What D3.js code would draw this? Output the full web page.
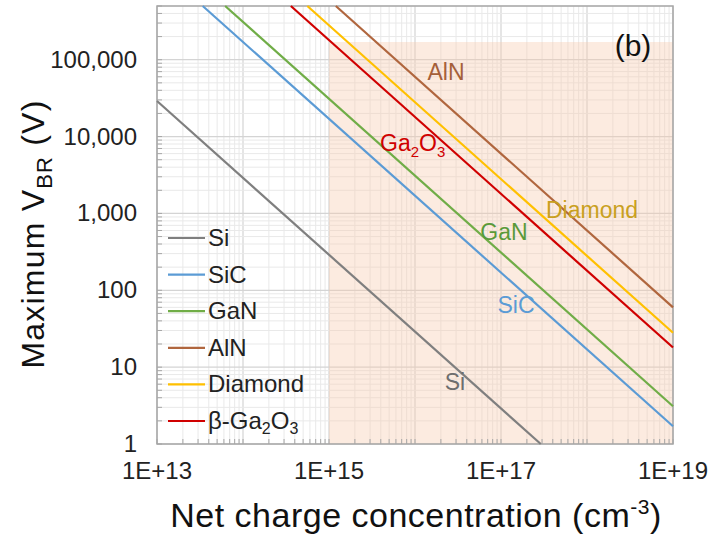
<!DOCTYPE html>
<html>
<head>
<meta charset="utf-8">
<script src="https://cdn.jsdelivr.net/npm/d3@7"></script>
<style>
body{margin:0;background:#fff;}
text{font-family:"Liberation Sans", Arial, sans-serif;}
</style>
</head>
<body>
<svg id="graph" width="712" height="535"></svg>
<script>
// materials, in legend order
const materials = ["Si", "SiC", "GaN", "AlN", "Diamond", "β-Ga2O3"];
// endpoints of each line: [N start, N end], [V start, V end]
const siN = [1e13, 2.9e17];      const siV = [2.9e4, 1];
const sicN = [3.4e13, 1e19];     const sicV = [5e5, 1.7];
const ganN = [6.2e13, 1e19];     const ganV = [5e5, 3.1];
const alnN = [1.2e15, 1e19];     const alnV = [5e5, 60];
const diamondN = [5.6e14, 1e19]; const diamondV = [5e5, 28];
const ga2o3N = [3.6e14, 1e19];   const ga2o3V = [5e5, 18];

const xTicks = [1e13, 1e15, 1e17, 1e19];
const yTicks = [1, 10, 100, 1000, 10000, 100000];
const shadeN = [1e15, 1e19];
const shadeV = [1, 1.7e5];

const colors = ["#7f7f7f", "#5b9bd5", "#70ad47", "#b0663e", "#ffc000", "#d00000"];
const labelColors = ["#6e6e6e", "#5b9bd5", "#5a9a3a", "#a5603a", "#c9a020", "#d00000"];

const margin = {top: 6, bottom: 91, left: 157, right: 39};
var graph = d3.select("#graph");
var width = 712, height = 535;

var x = d3.scaleLog()
	.domain([1e13, 1e19])
	.range([margin.left, width - margin.right]);
var y = d3.scaleLog()
	.domain([1, 5e5])
	.range([height - margin.bottom, margin.top]);

var series = [
	{name: materials[0], n: siN, v: siV},
	{name: materials[1], n: sicN, v: sicV},
	{name: materials[2], n: ganN, v: ganV},
	{name: materials[3], n: alnN, v: alnV},
	{name: materials[4], n: diamondN, v: diamondV},
	{name: materials[5], n: ga2o3N, v: ga2o3V}
];

//minor + major grid values
var xGrid = [], yGrid = [];
for(var e = 13; e < 19; e++){
	for(var k = 1; k < 10; k++) xGrid.push(k * Math.pow(10, e));
}
xGrid.push(1e19);
for(var e = 0; e < 6; e++){
	for(var k = 1; k < 10; k++){
		if(k * Math.pow(10, e) <= 5e5) yGrid.push(k * Math.pow(10, e));
	}
}
function isMajor(d){ return Math.abs(Math.log10(d) - Math.round(Math.log10(d))) < 1e-9; }

//grid
graph.append("g").selectAll("line")
	.data(xGrid)
	.enter()
	.append("line")
		.attr("x1", d => x(d)).attr("x2", d => x(d))
		.attr("y1", y(5e5)).attr("y2", y(1))
		.attr("stroke", d => isMajor(d) ? "#d4d4d4" : "#e9e9e9")
		.attr("stroke-width", d => isMajor(d) ? 1.2 : 1);
graph.append("g").selectAll("line")
	.data(yGrid)
	.enter()
	.append("line")
		.attr("x1", x(1e13)).attr("x2", x(1e19))
		.attr("y1", d => y(d)).attr("y2", d => y(d))
		.attr("stroke", d => isMajor(d) ? "#d4d4d4" : "#e9e9e9")
		.attr("stroke-width", d => isMajor(d) ? 1.2 : 1);

//shaded doping range
graph.append("rect")
	.attr("x", x(shadeN[0]))
	.attr("y", y(shadeV[1]))
	.attr("width", x(shadeN[1]) - x(shadeN[0]))
	.attr("height", y(shadeV[0]) - y(shadeV[1]))
	.attr("fill", "#f8cbad")
	.attr("opacity", 0.38);

//minor tick marks inside the frame
graph.append("g").selectAll("line")
	.data(xGrid)
	.enter()
	.append("line")
		.attr("x1", d => x(d)).attr("x2", d => x(d))
		.attr("y1", y(1)).attr("y2", y(1) - 5)
		.attr("stroke", "#a6a6a6");
graph.append("g").selectAll("line")
	.data(yGrid)
	.enter()
	.append("line")
		.attr("x1", x(1e13)).attr("x2", x(1e13) + 5)
		.attr("y1", d => y(d)).attr("y2", d => y(d))
		.attr("stroke", "#a6a6a6");

//frame
graph.append("rect")
	.attr("x", x(1e13)).attr("y", y(5e5))
	.attr("width", x(1e19) - x(1e13))
	.attr("height", y(1) - y(5e5))
	.attr("fill", "none")
	.attr("stroke", "#a6a6a6")
	.attr("stroke-width", 1.5);

//lines
var line = d3.line().x(d => x(d[0])).y(d => y(d[1]));
graph.append("g").selectAll("path")
	.data(series)
	.enter()
	.append("path")
		.attr("fill", "none")
		.attr("stroke", (d, i) => colors[i])
		.attr("stroke-width", 2.2)
		.attr("d", d => line(d.n.map((n, j) => [n, d.v[j]])));

//axes labels
graph.append("g").selectAll("text")
	.data(xTicks)
	.enter()
	.append("text")
		.attr("x", d => x(d))
		.attr("y", 479)
		.attr("text-anchor", "middle")
		.style("font-size", "24px")
		.attr("fill", "#222")
		.text(d => "1E+" + Math.round(Math.log10(d)));
graph.append("g").selectAll("text")
	.data(yTicks)
	.enter()
	.append("text")
		.attr("x", 137)
		.attr("y", d => y(d) + 8)
		.attr("text-anchor", "end")
		.style("font-size", "24px")
		.attr("fill", "#222")
		.text(d => d3.format(",")(d));

var xt = graph.append("text")
	.attr("x", 416).attr("y", 527)
	.attr("text-anchor", "middle")
	.style("font-size", "34px")
	.style("letter-spacing", "0.5px")
	.attr("fill", "#111");
xt.append("tspan").text("Net charge concentration (cm");
xt.append("tspan").attr("dy", -13).style("font-size", "21px").text("-3");
xt.append("tspan").attr("dy", 13).text(")");

var yt = graph.append("text")
	.attr("transform", "translate(44,234) rotate(-90)")
	.attr("text-anchor", "middle")
	.style("font-size", "32px")
	.style("letter-spacing", "1.2px")
	.attr("fill", "#111");
yt.append("tspan").text("Maximum V");
yt.append("tspan").attr("dy", 8).style("font-size", "22px").text("BR");
yt.append("tspan").attr("dy", -8).text(" (V)");

//legend
var legend = graph.append("g").selectAll("g")
	.data(series)
	.enter()
	.append("g")
		.attr("transform", (d, i) => "translate(168," + (238 + i * 36.6) + ")");
legend.append("line")
	.attr("x1", 0).attr("x2", 37)
	.attr("stroke", (d, i) => colors[i])
	.attr("stroke-width", 2.2);
legend.append("text")
	.attr("x", 40).attr("y", 8)
	.style("font-size", "24px")
	.attr("fill", "#222")
	.each(function(d){
		var t = d3.select(this);
		if(d.name == "β-Ga2O3"){
			t.append("tspan").text("β-Ga");
			t.append("tspan").attr("dy", 5).style("font-size", "16px").text("2");
			t.append("tspan").attr("dy", -5).text("O");
			t.append("tspan").attr("dy", 5).style("font-size", "16px").text("3");
		}else{
			t.text(d.name);
		}
	});

//in-plot labels
const labelPos = [[455, 390], [516, 313], [504, 240], [446, 80], [592, 218], [380, 151]];
graph.append("g").selectAll("text")
	.data(series)
	.enter()
	.append("text")
		.attr("x", (d, i) => labelPos[i][0])
		.attr("y", (d, i) => labelPos[i][1])
		.attr("text-anchor", (d, i) => i == 5 ? "start" : "middle")
		.style("font-size", "23px")
		.attr("fill", (d, i) => labelColors[i])
		.each(function(d){
			var t = d3.select(this);
			if(d.name == "β-Ga2O3"){
				t.append("tspan").text("Ga");
				t.append("tspan").attr("dy", 6).style("font-size", "15px").text("2");
				t.append("tspan").attr("dy", -6).text("O");
				t.append("tspan").attr("dy", 6).style("font-size", "15px").text("3");
			}else{
				t.text(d.name);
			}
		});

graph.append("text")
	.attr("x", 633).attr("y", 56)
	.attr("text-anchor", "middle")
	.style("font-size", "30px")
	.attr("fill", "#111")
	.text("(b)");
</script>
</body>
</html>
